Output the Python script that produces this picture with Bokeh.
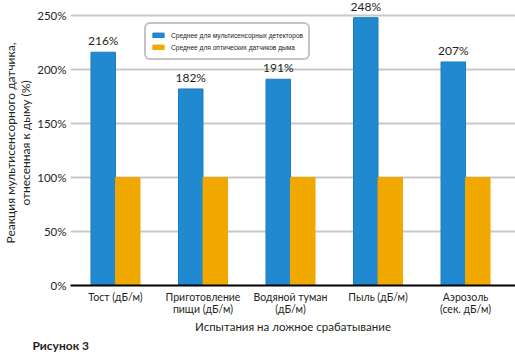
from bokeh.plotting import figure
from bokeh.models import (ColumnDataSource, FixedTicker, Legend, LegendItem, Title,
                          PrintfTickFormatter, Range1d)
from bokeh.embed import file_html
from bokeh.resources import INLINE

categories = ["Тост (дБ/м)", "Приготовление\nпищи (дБ/м)", "Водяной туман\n(дБ/м)",
              "Пыль (дБ/м)", "Аэрозоль\n(сек. дБ/м)"]
multi = [216, 182, 191, 248, 207]
optical = [100, 100, 100, 100, 100]
series_names = ["Среднее для мультисенсорных детекторов", "Среднее для оптических датчиков дыма"]
y_ticks = [0, 50, 100, 150, 200, 250]

BLUE = "#2089CF"
ORANGE = "#F1A900"
FONT = "Lato"
TXT = "#231f20"

idx = list(range(len(categories)))
xb = [i - 0.14 for i in idx]
xo = [i + 0.14 for i in idx]
src = ColumnDataSource(dict(xb=xb, xo=xo, multi=multi, optical=optical,
                            lab=[f"{v}%" for v in multi]))

p = figure(width=515, height=354, output_backend="svg", toolbar_location=None,
           x_range=Range1d(-0.514, 4.571), y_range=Range1d(0, 263.9),
           min_border_left=70, min_border_right=0, min_border_top=0, min_border_bottom=69)
p.outline_line_color = None
p.background_fill_color = "white"

rb = p.vbar(x="xb", top="multi", width=0.28, source=src, fill_color=BLUE,
            line_color="#1A7DC2", line_width=1)
ro = p.vbar(x="xo", top="optical", width=0.28, source=src, fill_color=ORANGE,
            line_color="#F0A500", line_width=1)
p.text(x="xb", y="multi", text="lab", source=src, y_offset=-4, text_align="center",
       text_baseline="bottom", text_font_size="12px", text_color=TXT,
       text_font={"value": FONT})

# axes
for ax in (p.xaxis, p.yaxis):
    ax.major_tick_line_color = None
    ax.minor_tick_line_color = None
    ax.major_tick_out = 0
    ax.major_tick_in = 0
    ax.minor_tick_out = 0
    ax.minor_tick_in = 0
    ax.major_label_text_font = FONT
    ax.major_label_text_color = TXT
    ax.axis_label_text_font = FONT
    ax.axis_label_text_font_size = "12px"
    ax.axis_label_text_font_style = "normal"
    ax.axis_label_text_color = TXT

p.xaxis.ticker = FixedTicker(ticks=idx)
p.xaxis.major_label_overrides = {i: c for i, c in zip(idx, categories)}
p.xaxis.axis_line_color = "black"
p.xaxis.axis_line_width = 2
p.xaxis.major_label_text_font_size = "10.5px"
p.xaxis.major_label_text_line_height = 1.0
p.xaxis.major_label_standoff = 5
p.xaxis.axis_label = "Испытания на ложное срабатывание"
p.xaxis.axis_label_text_font_size = "11.5px"
p.xaxis.axis_label_standoff = 2

p.yaxis.ticker = FixedTicker(ticks=y_ticks)
p.yaxis.formatter = PrintfTickFormatter(format="%d%%")
p.yaxis.axis_line_color = None
p.yaxis.major_label_text_font_size = "11.5px"
p.yaxis.major_label_standoff = 4
p.yaxis.axis_label = "Реакция мультисенсорного датчика,\nотнесенная к дыму (%)"
p.yaxis.axis_label_text_line_height = 1.0
p.yaxis.axis_label_standoff = 1

p.xgrid.grid_line_color = None
p.ygrid.grid_line_color = "#c8c8c8"
p.ygrid.grid_line_width = 2

legend = Legend(items=[LegendItem(label=series_names[0], renderers=[rb]),
                       LegendItem(label=series_names[1], renderers=[ro])],
                location=(74, 225), orientation="vertical",
                glyph_width=14, glyph_height=6, label_standoff=6, label_height=12,
                spacing=0, padding=5, margin=0,
                label_text_font="Liberation Sans", label_text_font_size="6.6px",
                label_text_color=TXT,
                border_line_color="#8a8a8a", border_line_width=2,
                background_fill_color="white", background_fill_alpha=1)
if "border_radius" in Legend.properties():
    legend.border_radius = 6
p.add_layout(legend, "center")

p.add_layout(Title(text="Рисунок 3", align="left", text_font=FONT, text_font_size="12px",
                   text_font_style="bold", text_color=TXT, offset=-38, standoff=0), "below")

open("out.html", "w").write(file_html(p, INLINE))
